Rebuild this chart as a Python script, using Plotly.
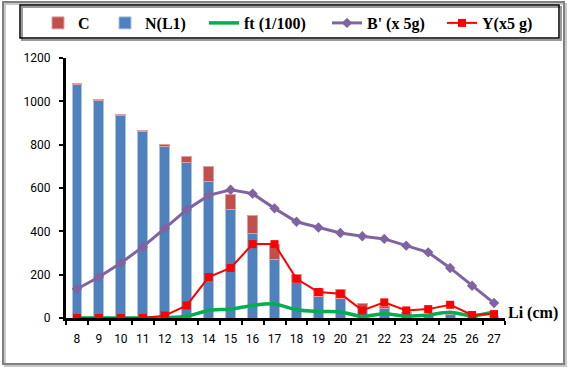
import plotly.graph_objects as go

lengths = [str(v) for v in range(8, 28)]
N_L1 = [1080, 1005, 935, 860, 792, 718, 629, 503, 390, 269, 166, 100, 92, 46, 43, 22, 10, 15, 5, 5]
C = [4, 4, 4, 5, 10, 28, 69, 67, 82, 69, 37, 38, 39, 20, 11, 5, 3, 3, 2, 2]
ft = [0, 0, 0, 0, 2, 8, 35, 41, 58, 65, 38, 30, 28, 7, 20, 9, 14, 26, 11, 28]
B = [134, 189, 254, 328, 414, 500, 566, 592, 574, 506, 444, 418, 392, 377, 365, 334, 303, 231, 149, 69]
Y = [0, 0, 0, 0, 11, 58, 189, 231, 341, 341, 181, 120, 112, 35, 72, 35, 41, 61, 14, 18]

W, H = 568, 367
L, R, T, B_ = 66, 505, 58, 318

def px(x):
    return (x - L) / (R - L)

def py(y):
    return (B_ - y) / (B_ - T)

fig = go.Figure()
fig.add_trace(go.Bar(x=lengths, y=N_L1, name="<b>N(L1)</b>", legend="legend2",
                     marker=dict(color="#4F81BD", line=dict(color="#A9C2E0", width=1))))
fig.add_trace(go.Bar(x=lengths, y=C, name="<b>C</b>", legend="legend",
                     marker=dict(color="#C0504D", line=dict(color="#DDA09E", width=1))))
fig.add_trace(go.Scatter(x=lengths, y=ft, name="<b>ft (1/100)</b>", legend="legend3", mode="lines",
                         line=dict(color="#00B050", width=3.5, shape="spline", smoothing=0.8)))
fig.add_trace(go.Scatter(x=lengths, y=B, name="<b>B' (x 5g)</b>", legend="legend4", mode="lines+markers",
                         line=dict(color="#8064A2", width=3),
                         marker=dict(symbol="diamond", size=8, color="#8064A2")))
fig.add_trace(go.Scatter(x=lengths, y=Y, name="<b>Y(x5 g)</b>", legend="legend5", mode="lines+markers",
                         line=dict(color="#FF0000", width=2),
                         marker=dict(symbol="square", size=8, color="#FF0000")))

shapes = [
    dict(type="rect", xref="paper", yref="paper", layer="above",
         x0=px(5), x1=px(566), y0=py(366), y1=py(4),
         line=dict(color="#C8C8C8", width=2), fillcolor="rgba(0,0,0,0)"),
    dict(type="rect", xref="paper", yref="paper", layer="above",
         x0=px(3), x1=px(564), y0=py(364), y1=py(2),
         line=dict(color="#808080", width=2), fillcolor="rgba(0,0,0,0)"),
    dict(type="rect", xref="paper", yref="paper", layer="above",
         x0=px(22), x1=px(561), y0=py(40), y1=py(7),
         line=dict(color="#9A9A9A", width=2), fillcolor="rgba(0,0,0,0)"),
    dict(type="rect", xref="paper", yref="paper", layer="above",
         x0=px(20), x1=px(559), y0=py(38), y1=py(5),
         line=dict(color="#000000", width=1.5), fillcolor="rgba(0,0,0,0)"),
]

def leg(xpix):
    return dict(orientation="h", xref="container", yref="container",
                x=xpix / W, y=1 - 23 / H, xanchor="left", yanchor="middle",
                bgcolor="rgba(0,0,0,0)", borderwidth=0,
                font=dict(family="Liberation Serif", size=16, color="black"),
                itemwidth=30)

fig.update_layout(
    width=W, height=H,
    margin=dict(l=L, r=W - R, t=T, b=H - B_, autoexpand=False),
    paper_bgcolor="white", plot_bgcolor="white",
    barmode="stack", bargap=0.55,
    shapes=shapes,
    showlegend=True,
    legend=leg(38), legend2=leg(105), legend3=leg(204), legend4=leg(327), legend5=leg(442),
    annotations=[dict(text="<b>Li (cm)</b>", xref="paper", yref="paper",
                      x=px(533), y=py(313), showarrow=False,
                      xanchor="center", yanchor="middle",
                      font=dict(family="Liberation Serif", size=16, color="black"))],
    font=dict(family="Roboto", size=12, color="black"),
)
fig.update_xaxes(type="category", range=[-0.5, 19.5], tickson="boundaries",
                 ticks="outside", ticklen=4, tickwidth=2, tickcolor="black", tickangle=0,
                 showline=True, linewidth=3, linecolor="black", showgrid=False,
                 ticklabelstandoff=8, tickfont=dict(family="Roboto", size=12, color="black"))
fig.update_yaxes(range=[0, 1200], dtick=200, ticks="outside", ticklen=4, tickwidth=2,
                 tickcolor="black", showline=True, linewidth=3, linecolor="black",
                 showgrid=False, zeroline=False, ticklabelstandoff=6,
                 tickfont=dict(family="Roboto", size=12, color="black"))

fig.write_html("out.html", config={"displayModeBar": False},
               post_script="document.body.style.margin='0';document.body.style.padding='0';")
